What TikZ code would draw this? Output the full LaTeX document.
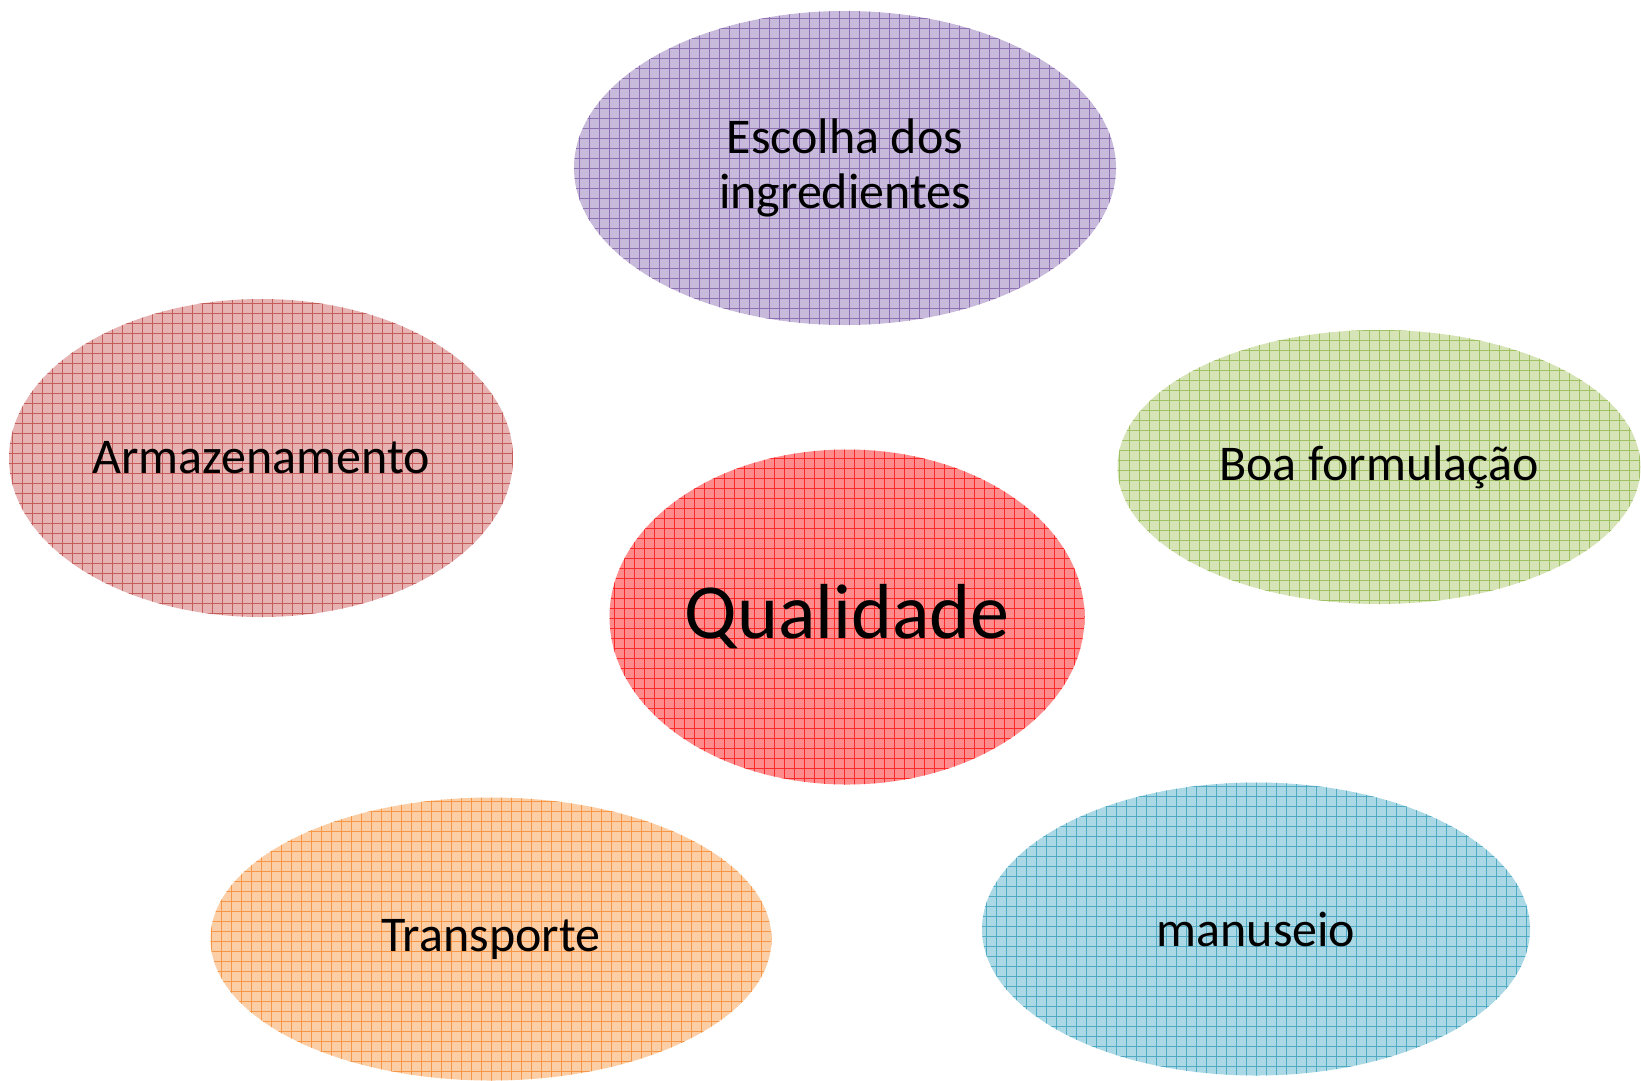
\documentclass[tikz,border=0pt]{standalone}
\usepackage{fontspec}
\setmainfont{Carlito}
\usetikzlibrary{shapes.geometric}
\definecolor{purF}{RGB}{200,186,218}
\definecolor{purL}{RGB}{140,112,178}
\definecolor{redF}{RGB}{230,178,178}
\definecolor{redL}{RGB}{196,92,90}
\definecolor{grnF}{RGB}{214,228,184}
\definecolor{grnL}{RGB}{160,192,100}
\definecolor{qF}{RGB}{255,140,140}
\definecolor{qL}{RGB}{250,40,40}
\definecolor{orF}{RGB}{252,206,166}
\definecolor{orL}{RGB}{246,150,70}
\definecolor{blF}{RGB}{170,216,228}
\definecolor{blL}{RGB}{80,170,196}
\tikzset{
  bubble/.style 2 args={ellipse, inner sep=0pt, draw=none, fill=#1,
    align=center, text=black, font=\fontsize{50}{55}\selectfont,
    path picture={\draw[#2, line width=1pt]
      ([shift={(-400pt,-400pt)}]path picture bounding box.center) grid[step=10pt]
      ([shift={(400pt,400pt)}]path picture bounding box.center);}},
}
\begin{document}
\begin{tikzpicture}[x=1pt,y=-1pt]
\useasboundingbox (0,0) rectangle (1641,1080);
\node[bubble={purF}{purL}, minimum width=542pt, minimum height=314pt] (esc) at (845,168) {Escolha dos\\ingredientes};
\node[bubble={redF}{redL}, minimum width=504pt, minimum height=318pt] (arm) at (261,458) {Armazenamento};
\node[bubble={grnF}{grnL}, minimum width=523pt, minimum height=274pt] (boa) at (1379,467) {Boa formulação};
\node[bubble={qF}{qL}, minimum width=475pt, minimum height=335pt, font=\fontsize{78}{86}\selectfont] (qual) at (847,617) {Qualidade};
\node[bubble={orF}{orL}, minimum width=561pt, minimum height=283pt] (tra) at (491,939) {Transporte};
\node[bubble={blF}{blL}, minimum width=548pt, minimum height=293pt] (man) at (1256,929) {manuseio};
\end{tikzpicture}
\end{document}
